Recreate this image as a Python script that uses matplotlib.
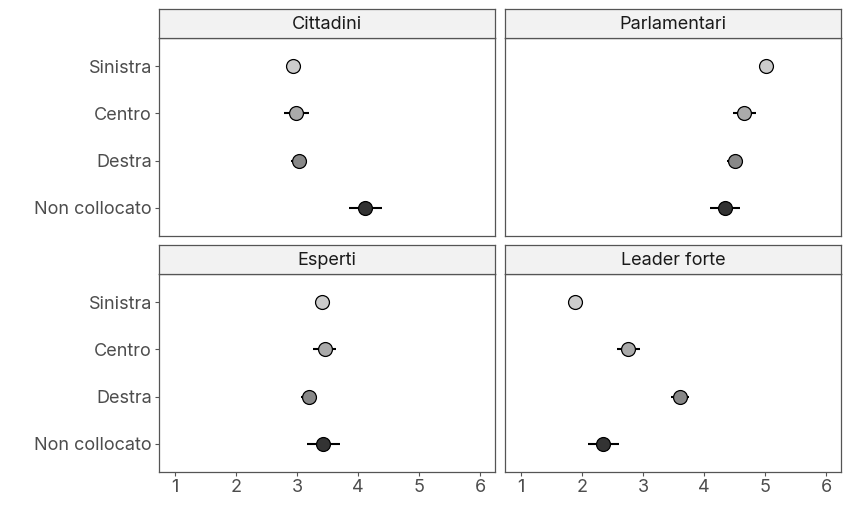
import matplotlib
matplotlib.use("Agg")
import matplotlib.pyplot as plt
import numpy as np

plt.rcParams['font.family'] = ['Inter', 'DejaVu Sans']

# data
categories = ["Sinistra", "Centro", "Destra", "Non collocato"]
colors = ["#cccccc", "#aaaaaa", "#888888", "#333333"]
panels = ["Cittadini", "Parlamentari", "Esperti", "Leader forte"]

cittadini = [2.93, 2.99, 3.03, 4.12]
cittadini_err = [0.0, 0.20, 0.13, 0.27]
parlamentari = [5.01, 4.66, 4.50, 4.34]
parlamentari_err = [0.0, 0.19, 0.12, 0.25]
esperti = [3.40, 3.45, 3.19, 3.43]
esperti_err = [0.0, 0.19, 0.12, 0.27]
leader = [1.88, 2.76, 3.61, 2.35]
leader_err = [0.0, 0.19, 0.15, 0.25]

values = [cittadini, parlamentari, esperti, leader]
errors = [cittadini_err, parlamentari_err, esperti_err, leader_err]
x_ticks = [1, 2, 3, 4, 5, 6]

W, H = 850, 532
fig = plt.figure(figsize=(W / 100, H / 100), dpi=100)

cols = [(159, 495), (505, 841)]
rows = [(9, 38, 236), (245, 274, 472)]  # strip top, panel top, panel bottom
border = "#555555"
tick_col = "#4d4d4d"

for k, name in enumerate(panels):
    r, c = divmod(k, 2)
    x0, x1 = cols[c]
    s_top, p_top, p_bot = rows[r]

    ax = fig.add_axes([x0 / W, 1 - p_bot / H, (x1 - x0) / W, (p_bot - p_top) / H])
    sx = fig.add_axes([x0 / W, 1 - p_top / H, (x1 - x0) / W, (p_top - s_top) / H])

    ypos = np.arange(len(categories))
    for i in range(len(categories)):
        v, e = values[k][i], errors[k][i]
        if e > 0:
            ax.plot([v - e, v + e], [ypos[i], ypos[i]], color="black", lw=1.5,
                    solid_capstyle="butt", zorder=2)
        ax.plot(v, ypos[i], "o", ms=10, mfc=colors[i], mec="black", mew=0.9, zorder=3)

    ax.set_xlim(0.74, 6.24)
    ax.set_ylim(len(categories) - 0.4, -0.6)
    ax.set_xticks(x_ticks)
    ax.set_yticks(ypos)
    ax.tick_params(direction="out", length=3, width=0.8, color="#555555",
                   labelsize=13, labelcolor=tick_col, pad=2)
    if c == 0:
        ax.set_yticklabels(categories)
    else:
        ax.tick_params(axis="y", left=False, labelleft=False)
    if r == 1:
        ax.set_xticklabels([str(t) for t in x_ticks])
    else:
        ax.tick_params(axis="x", bottom=False, labelbottom=False)
    for sp in ax.spines.values():
        sp.set_color(border)
        sp.set_linewidth(0.9)

    sx.set_facecolor("#f2f2f2")
    sx.set_xticks([])
    sx.set_yticks([])
    for sp in sx.spines.values():
        sp.set_color(border)
        sp.set_linewidth(0.9)
    sx.text(0.5, 0.48, name, ha="center", va="center", fontsize=13,
            color="#1a1a1a", transform=sx.transAxes)

fig.savefig("out.png", dpi=100)
